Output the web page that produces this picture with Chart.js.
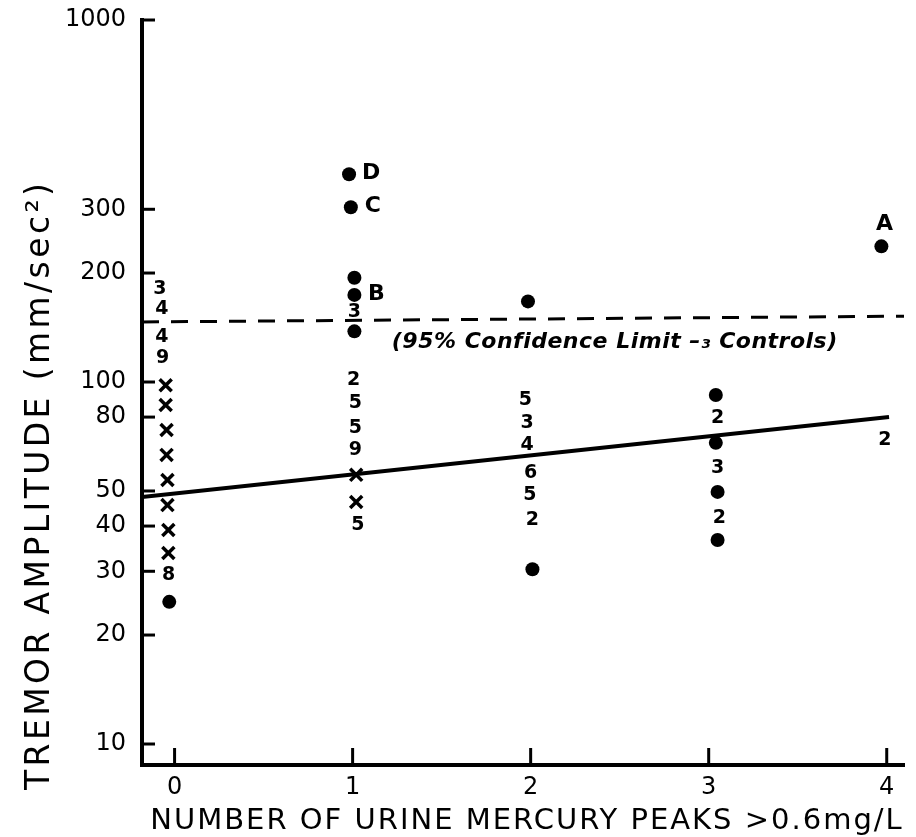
<!DOCTYPE html>
<html lang="en">
<head>
<meta charset="UTF-8">
<title>Tremor amplitude vs urine mercury peaks</title>
<script src="https://cdn.jsdelivr.net/npm/chart.js"></script>
<style>
  html,body{margin:0;padding:0;background:#fff;width:916px;height:837px;overflow:hidden}
  #wrap{width:916px;height:837px}
</style>
</head>
<body>
<div id="wrap"><canvas id="c" width="916" height="837"></canvas></div>
<script>
// ---- data ----
const xTicks = [0, 1, 2, 3, 4];
const yTicks = [10, 20, 30, 40, 50, 80, 100, 200, 300, 1000];

// filled circles
const dotX = [-0.03, 0.98, 0.99, 1.01, 1.01, 1.01, 1.985, 2.01, 3.04, 3.04, 3.05, 3.05, 3.97];
const dotY = [24.7, 375, 304, 194, 174, 138, 167, 30.4, 92.1, 67.9, 49.7, 36.6, 237];

// x markers
const crossX = [-0.05, -0.05, -0.045, -0.045, -0.04, -0.04, -0.035, -0.035, 1.02, 1.02];
const crossY = [98, 86.4, 73.7, 62.9, 53.6, 45.7, 39.0, 33.7, 55.4, 46.6];

// number markers (count of subjects)
const numText = ['3','4','4','9','8', '3','2','5','5','9','5', '5','3','4','6','5','2', '2','3','2', '2'];
const numX = [-0.083,-0.072,-0.072,-0.067,-0.033, 1.01,1.006,1.015,1.015,1.015,1.03, 1.97,1.98,1.98,2.0,1.995,2.01, 3.05,3.05,3.06, 3.99];
const numY = [180.6,159,133,116.5,29.3, 156,101.3,87.5,74.6,64.9,40.3, 89.2,77.0,67.0,56.1,48.7,41.6, 79.6,57.9,42.1, 69.2];

// lettered subjects
const letterText = ['D', 'C', 'B', 'A'];
const letterX = [0.98, 0.99, 1.01, 3.97];
const letterY = [375, 304, 174, 237];

// regression line and 95% limit of controls
const fitX = [-0.183, 4.013];
const fitY = [48.1, 80.1];
const limitX = [-0.183, 4.097];
const limitY = [146.5, 152];
const limitLabel = '(95% Confidence Limit \u2013\u2083 Controls)';

const yTitle = 'TREMOR AMPLITUDE (mm/sec\u00B2)';
const xTitle = 'NUMBER OF URINE MERCURY PEAKS >0.6mg/L';

const pts = (xs, ys) => xs.map((x, i) => ({x: x, y: ys[i]}));

// ---- drawing helpers ----
const extras = {
  id: 'extras',
  afterDatasetsDraw(chart) {
    const ctx = chart.ctx, xs = chart.scales.x, ys = chart.scales.y, a = chart.chartArea;
    ctx.save();
    ctx.fillStyle = '#000';
    ctx.strokeStyle = '#000';
    // inward tick marks
    ctx.lineWidth = 3;
    yTicks.forEach(v => {
      const py = ys.getPixelForValue(v);
      ctx.beginPath(); ctx.moveTo(a.left, py); ctx.lineTo(a.left + 13, py); ctx.stroke();
    });
    xTicks.forEach(v => {
      const px = xs.getPixelForValue(v);
      ctx.beginPath(); ctx.moveTo(px, a.bottom); ctx.lineTo(px, a.bottom - 17); ctx.stroke();
    });
    // number markers
    const meta = chart.getDatasetMeta(3);
    ctx.font = 'bold 19px "DejaVu Sans"';
    ctx.textAlign = 'center';
    ctx.textBaseline = 'middle';
    meta.data.forEach((el, i) => ctx.fillText(numText[i], el.x, el.y));
    // letters
    ctx.font = 'bold 22px "DejaVu Sans"';
    letterText.forEach((t, i) => {
      const px = xs.getPixelForValue(letterX[i]), py = ys.getPixelForValue(letterY[i]);
      if (t === 'A') ctx.fillText(t, px + 3, py - 22);
      else ctx.fillText(t, px + 22, py - 1);
    });
    // limit label
    ctx.font = 'italic bold 22px "DejaVu Sans"';
    ctx.textAlign = 'left';
    ctx.letterSpacing = '0.5px';
    ctx.fillText(limitLabel, xs.getPixelForValue(1.22), ys.getPixelForValue(146.5) + 20);
    // x title
    ctx.font = '29px "DejaVu Sans"';
    ctx.letterSpacing = '2px';
    ctx.textAlign = 'center';
    ctx.fillText(xTitle, (a.left + a.right) / 2 + 4, 821);
    // y title
    ctx.font = '33px "DejaVu Sans"';
    ctx.letterSpacing = '3.4px';
    ctx.textAlign = 'left';
    ctx.translate(40, 790);
    ctx.rotate(-Math.PI / 2);
    ctx.fillText(yTitle, 0, 0);
    ctx.restore();
  }
};

new Chart(document.getElementById('c'), {
  type: 'scatter',
  data: {
    datasets: [
      {data: pts(fitX, fitY), showLine: true, borderColor: '#000', borderWidth: 4, pointRadius: 0},
      {data: pts(limitX, limitY), showLine: true, borderColor: '#000', borderWidth: 3, borderDash: [17, 12], pointRadius: 0},
      {data: pts(dotX, dotY), pointStyle: 'circle', pointRadius: 7, backgroundColor: '#000', borderColor: '#000', borderWidth: 0},
      {data: pts(numX, numY), pointRadius: 0},
      {data: pts(crossX, crossY), pointStyle: 'crossRot', pointRadius: 8.5, borderColor: '#000', borderWidth: 3.5}
    ]
  },
  options: {
    responsive: false,
    animation: false,
    layout: {padding: {top: 20, right: 4, left: 0, bottom: 0}},
    plugins: {legend: {display: false}, tooltip: {enabled: false}},
    scales: {
      x: {
        type: 'linear', min: -0.183, max: 4.097,
        afterBuildTicks: s => { s.ticks = xTicks.map(v => ({value: v})); },
        afterFit: s => { s.height = 72; s.paddingLeft = 0; s.paddingRight = 0; },
        grid: {display: true, drawOnChartArea: false, drawTicks: false},
        border: {display: true, color: '#000', width: 4},
        ticks: {color: '#000', font: {family: 'DejaVu Sans', size: 24}, padding: 8, autoSkip: false, maxRotation: 0}
      },
      y: {
        type: 'logarithmic', min: 8.75, max: 1000,
        afterBuildTicks: s => { s.ticks = yTicks.map(v => ({value: v})); },
        afterFit: s => { s.width = 142; s.paddingTop = 0; s.paddingBottom = 0; },
        grid: {display: true, drawOnChartArea: false, drawTicks: false},
        border: {display: true, color: '#000', width: 4},
        ticks: {color: '#000', font: {family: 'DejaVu Sans', size: 24}, padding: 16, autoSkip: false,
                callback: v => String(v)}
      }
    }
  },
  plugins: [extras]
});
</script>
</body>
</html>
